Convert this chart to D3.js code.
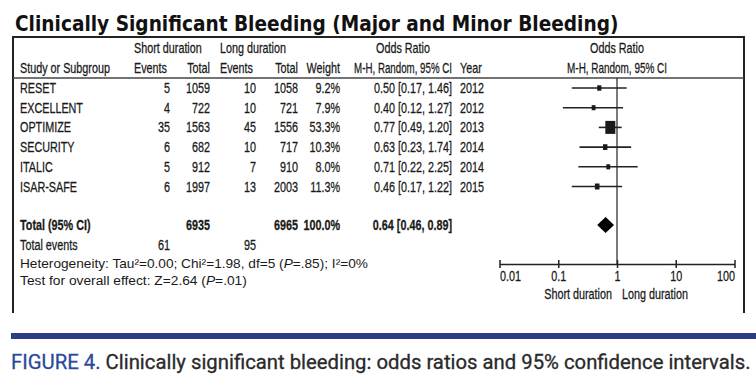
<!DOCTYPE html>
<html>
<head>
<meta charset="utf-8">
<script src="https://cdn.jsdelivr.net/npm/d3@7"></script>
<style>
  body { margin: 0; background: #fff; }
  svg { display: block; }
  .narrow { font-family: "Liberation Sans", Arial, sans-serif; font-size: 13.5px; fill: #1a1a1a; stroke: #1a1a1a; stroke-width: 0.25px; }
</style>
</head>
<body>
<div id="container"></div>
<script>
const w = 756;
const h = 382;

// table data
const studies = ["RESET", "EXCELLENT", "OPTIMIZE", "SECURITY", "ITALIC", "ISAR-SAFE"];
const shortEvents = [5, 4, 35, 6, 5, 6];
const shortTotal = [1059, 722, 1563, 682, 912, 1997];
const longEvents = [10, 10, 45, 10, 7, 13];
const longTotal = [1058, 721, 1556, 717, 910, 2003];
const weights = [9.2, 7.9, 53.3, 10.3, 8.0, 11.3];
const oddsRatio = [0.50, 0.40, 0.77, 0.63, 0.71, 0.46];
const ciLow = [0.17, 0.12, 0.49, 0.23, 0.22, 0.17];
const ciHigh = [1.46, 1.27, 1.20, 1.74, 2.25, 1.22];
const years = [2012, 2012, 2013, 2014, 2014, 2015];

const totalShort = 6935;
const totalLong = 6965;
const totalEventsShort = 61;
const totalEventsLong = 95;
const pooled = [0.64, 0.46, 0.89];
const axisTicks = [0.01, 0.1, 1, 10, 100];

const frameL = 13, frameR = 744, frameT = 37, frameB = 313, headLine = 78;

const svg = d3.select("#container")
  .append("svg")
  .attr("width", w)
  .attr("height", h);

// narrow, slightly tall text like the RevMan export
function txt(x, y, s, anchor, bold, fitWidth) {
  const t = svg.append("text")
    .attr("class", "narrow")
    .attr("text-anchor", anchor || "start")
    .style("font-weight", bold ? "bold" : null)
    .text(s);
  let sx = 0.8;
  if (fitWidth) sx = fitWidth / t.node().getComputedTextLength();
  t.attr("transform", `translate(${x},${y + 5}) scale(${sx},1.12)`);
  return t;
}

// squeeze a text to a given width with a transform
function fit(sel, x, y, width, sy) {
  const len = sel.node().getComputedTextLength();
  sel.attr("transform", `translate(${x},${y}) scale(${width / len},${sy || 1})`);
}

const title = svg.append("text")
  .style("font-family", "'DejaVu Sans', Verdana, sans-serif")
  .style("font-weight", "bold")
  .style("font-size", "19px")
  .style("fill", "#111")
  .text("Clinically Significant Bleeding (Major and Minor Bleeding)");
fit(title, 15, 31, 604, 1.08);

// frame (open at the bottom)
svg.append("path")
  .attr("d", `M${frameL},${frameB}V${frameT}H${frameR}V${frameB}`)
  .attr("fill", "none")
  .attr("stroke", "#222")
  .attr("stroke-width", 2);
svg.append("line")
  .attr("x1", frameL).attr("x2", frameR)
  .attr("y1", headLine).attr("y2", headLine)
  .attr("stroke", "#444")
  .attr("stroke-width", 1.5);

// header
txt(134, 48, "Short duration");
txt(220, 48, "Long duration");
txt(403, 48, "Odds Ratio", "middle");
txt(617, 48, "Odds Ratio", "middle");
txt(20, 68, "Study or Subgroup");
txt(134, 68, "Events");
txt(210, 68, "Total", "end");
txt(220, 68, "Events");
txt(298, 68, "Total", "end");
txt(340, 68, "Weight", "end");
txt(452, 68, "M-H, Random, 95% CI", "end", false, 98);
txt(460, 68, "Year");
txt(617, 68, "M-H, Random, 95% CI", "middle", false, 100);

const y = d3.scaleLinear().domain([0, studies.length - 1]).range([88, 186.5]);
const yTotal = 225;
const yEvents = 245;

const fmt2 = d3.format(".2f");
studies.forEach((s, i) => {
  const yy = y(i);
  txt(20, yy, s);
  txt(170, yy, shortEvents[i], "end");
  txt(210, yy, shortTotal[i], "end");
  txt(256, yy, longEvents[i], "end");
  txt(298, yy, longTotal[i], "end");
  txt(340, yy, d3.format(".1f")(weights[i]) + "%", "end");
  txt(452, yy, `${fmt2(oddsRatio[i])} [${fmt2(ciLow[i])}, ${fmt2(ciHigh[i])}]`, "end");
  txt(460, yy, years[i]);
});

txt(20, yTotal, "Total (95% CI)", "start", true);
txt(210, yTotal, totalShort, "end", true);
txt(298, yTotal, totalLong, "end", true);
txt(340, yTotal, "100.0%", "end", true);
txt(452, yTotal, `${fmt2(pooled[0])} [${fmt2(pooled[1])}, ${fmt2(pooled[2])}]`, "end", true);
txt(20, yEvents, "Total events");
txt(170, yEvents, totalEventsShort, "end");
txt(256, yEvents, totalEventsLong, "end");

const foot = svg.append("g")
  .style("font-family", "'Liberation Sans', Arial, sans-serif")
  .style("font-size", "13.5px")
  .style("fill", "#1a1a1a");
const het = foot.append("text");
het.append("tspan").text("Heterogeneity: Tau\u00b2=0.00; Chi\u00b2=1.98, df=5 (");
het.append("tspan").style("font-style", "italic").text("P");
het.append("tspan").text("=.85); I\u00b2=0%");
fit(het, 20, 268, 348, 1);
const ztest = foot.append("text");
ztest.append("tspan").text("Test for overall effect: Z=2.64 (");
ztest.append("tspan").style("font-style", "italic").text("P");
ztest.append("tspan").text("=.01)");
fit(ztest, 20, 285, 227, 1);

// forest plot
const x = d3.scaleLog().domain([0.01, 100]).range([499.5, 734.5]);
const axisY = 264;

svg.append("line")
  .attr("x1", x(1)).attr("x2", x(1))
  .attr("y1", headLine).attr("y2", axisY)
  .attr("stroke", "#333")
  .attr("stroke-width", 1.3);

const rows = studies.map((s, i) => ({ s, i }));
svg.selectAll(".ci")
  .data(rows)
  .enter()
  .append("line")
  .attr("class", "ci")
  .attr("x1", d => x(ciLow[d.i]))
  .attr("x2", d => x(ciHigh[d.i]))
  .attr("y1", d => y(d.i))
  .attr("y2", d => y(d.i))
  .attr("stroke", "#222")
  .attr("stroke-width", 1.6);

const side = d => 10 * Math.sqrt(weights[d.i] / 53.3);
svg.selectAll(".box")
  .data(rows)
  .enter()
  .append("rect")
  .attr("class", "box")
  .attr("x", d => x(oddsRatio[d.i]) - side(d) * 0.5)
  .attr("y", d => y(d.i) - side(d) * 0.65)
  .attr("width", d => side(d))
  .attr("height", d => side(d) * 1.3)
  .attr("fill", "#1a1a1a");

svg.append("path")
  .attr("d", `M${x(pooled[1])},${yTotal}L${x(pooled[0])},${yTotal - 8}L${x(pooled[2])},${yTotal}L${x(pooled[0])},${yTotal + 8}Z`)
  .attr("fill", "#000");

const axis = svg.append("g")
  .attr("transform", `translate(0,${axisY})`)
  .call(d3.axisBottom(x).tickValues(axisTicks).tickFormat(d => String(d)).tickSizeOuter(0));
axis.select(".domain").attr("stroke", "#222").attr("stroke-width", 1.6);
axis.selectAll(".tick line").attr("y1", -4).attr("y2", 4).attr("stroke", "#222").attr("stroke-width", 1.5);
axis.selectAll(".tick text")
  .attr("class", "narrow")
  .attr("y", null)
  .attr("dy", null)
  .attr("transform", "translate(0,17) scale(0.8,1.08)")
  .attr("text-anchor", (d, i) => i === 0 ? "start" : i === axisTicks.length - 1 ? "end" : "middle");
axis.attr("font-family", null).attr("font-size", null);

txt(x(1) - 5, 294, "Short duration", "end");
txt(x(1) + 5, 294, "Long duration", "start");

// caption
svg.append("rect")
  .attr("x", 11).attr("y", 333)
  .attr("width", w - 11).attr("height", 6)
  .attr("fill", "#2b3d86");

const cap = svg.append("text")
  .style("font-family", "Roboto, 'Open Sans', sans-serif")
  .style("font-size", "20px")
  .style("stroke-width", "0.3px");
cap.append("tspan").style("fill", "#2b4a9b").style("stroke", "#2b4a9b").text("FIGURE 4.");
cap.append("tspan").style("fill", "#2a2a2a").style("stroke", "#2a2a2a").text(" Clinically significant bleeding: odds ratios and 95% confidence intervals.");
fit(cap, 11, 369, 740, 1.05);
</script>
</body>
</html>
